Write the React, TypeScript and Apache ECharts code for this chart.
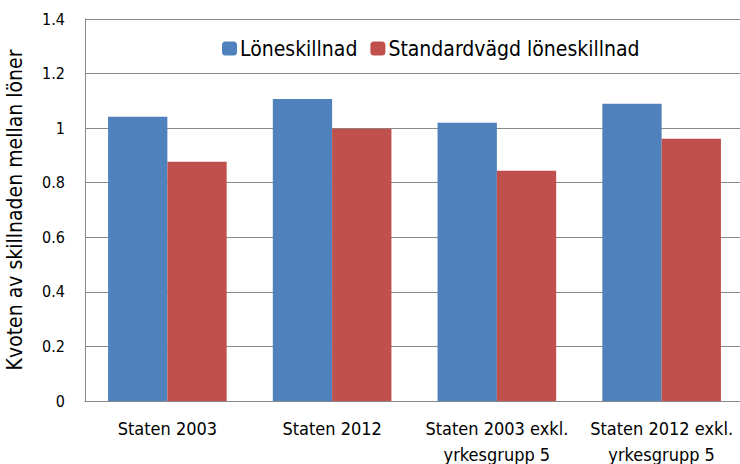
import React, { useEffect, useRef } from "react";
import * as echarts from "echarts";

const categories = ["Staten 2003", "Staten 2012", "Staten 2003 exkl.\nyrkesgrupp 5", "Staten 2012 exkl.\nyrkesgrupp 5"];
const loneskillnad = [1.042, 1.107, 1.02, 1.089];
const standardvagd = [0.877, 0.998, 0.844, 0.961];
const yTicks = [0, 0.2, 0.4, 0.6, 0.8, 1, 1.2, 1.4];

const FONT = "'DejaVu Sans Condensed', 'DejaVu Sans', sans-serif";

export default function App() {
  const ref = useRef<HTMLDivElement>(null);
  useEffect(() => {
    if (!ref.current) return;
    const chart = echarts.init(ref.current, undefined, { renderer: "svg" });
    chart.setOption({
      animation: false,
      backgroundColor: "#ffffff",
      textStyle: { fontFamily: FONT },
      grid: { left: 85, right: -4, top: 19, bottom: 63, containLabel: false, outerBoundsMode: "none" },
      legend: {
        top: 33,
        left: 217,
        itemWidth: 15,
        itemHeight: 14,
        itemGap: 13,
        textStyle: { fontFamily: FONT, fontSize: 21, color: "#000", padding: [0, 0, 0, -2] },
        data: ["Löneskillnad", "Standardvägd löneskillnad"],
      },
      xAxis: {
        type: "category",
        data: categories,
        axisLine: { lineStyle: { color: "#888", width: 1 } },
        axisTick: { show: false },
        axisLabel: { fontFamily: FONT, fontSize: 18, color: "#000", margin: 14, lineHeight: 26, interval: 0 },
      },
      yAxis: {
        type: "value",
        min: 0,
        max: 1.4,
        interval: 0.2,
        name: "Kvoten av skillnaden mellan löner",
        nameLocation: "middle",
        nameGap: 60,
        nameRotate: 90,
        nameTextStyle: { fontFamily: FONT, fontSize: 21, color: "#000" },
        axisLine: { show: true, lineStyle: { color: "#888", width: 1 } },
        axisTick: { show: false },
        splitLine: { lineStyle: { color: "#888", width: 1 } },
        axisLabel: {
          fontFamily: FONT,
          fontSize: 16,
          color: "#000",
          margin: 20,
          formatter: (v: number) => {
            const t = yTicks.find((x) => Math.abs(x - v) < 1e-9);
            return t === undefined ? "" : String(t);
          },
        },
      },
      series: [
        {
          name: "Löneskillnad",
          type: "bar",
          data: loneskillnad,
          itemStyle: { color: "#4f81bd" },
          barGap: "0%",
          barCategoryGap: "28%",
        },
        {
          name: "Standardvägd löneskillnad",
          type: "bar",
          data: standardvagd,
          itemStyle: { color: "#c0504d" },
          barGap: "0%",
          barCategoryGap: "28%",
        },
      ],
    });
    return () => chart.dispose();
  }, []);
  return <div ref={ref} style={{ width: 740, height: 464, position: "absolute", left: 0, top: 0 }} />;
}
